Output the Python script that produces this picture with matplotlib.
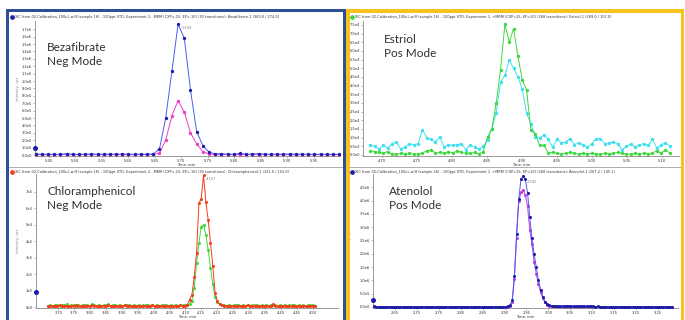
import numpy as np
import matplotlib.pyplot as plt
from matplotlib.patches import Rectangle
from matplotlib.lines import Line2D
from matplotlib.ticker import FuncFormatter

W, H = 685, 320

# ---- Bezafibrate, Neg Mode (top left), counts ----
bez_t0, bez_dt = 5.425, 0.0117
bez_blue = [1.2e4, 1.1e4, 1.0e4, 0.9e4, 1.0e4, 1.8e4, 1.0e4, 0.8e4, 1.2e4, 1.4e4,
            1.0e4, 1.1e4, 1.3e4, 1.0e4, 1.5e4, 1.1e4, 0.9e4, 1.2e4, 1.0e4, 1.5e4,
            8.1e4, 5.0e5, 1.13e6, 1.77e6, 1.58e6, 8.8e5, 3.16e5, 1.26e5, 3.6e4,
            1.6e4, 1.8e4, 1.2e4, 1.0e4, 2.2e4, 1.0e4, 1.4e4, 2.0e4, 1.1e4, 0.9e4,
            1.3e4, 1.1e4, 1.5e4, 1.0e4, 1.2e4, 0.9e4, 1.1e4, 1.0e4, 0.8e4, 1.0e4, 1.0e4]
bez_pink = [0.6e4, 0.5e4, 0.4e4, 0.5e4, 0.6e4, 0.5e4, 0.4e4, 0.5e4, 0.6e4, 0.5e4,
            0.5e4, 0.4e4, 0.6e4, 0.5e4, 0.5e4, 0.4e4, 0.5e4, 0.6e4, 0.5e4, 0.6e4,
            2.5e4, 2.0e5, 5.3e5, 7.35e5, 5.8e5, 3.0e5, 1.5e5, 4.5e4, 1.4e4,
            0.6e4, 0.5e4, 0.5e4, 0.4e4, 0.6e4, 0.5e4, 0.5e4, 0.4e4, 0.5e4, 0.6e4,
            0.5e4, 0.4e4, 0.5e4, 0.5e4, 0.6e4, 0.4e4, 0.5e4, 0.5e4, 0.4e4, 0.5e4, 0.5e4]
bez_start = 9.0e4

# ---- Estriol, Pos Mode (top right), counts ----
est_t0, est_dt = 4.6838, 0.0062
est_green = [2.5e3, 2.0e3, 1.5e3, 1.0e3, 2.0e3, 0.5e3, 0.5e3, 1.0e3, 0.5e3, 1.0e3,
             0.5e3, 0.5e3, 1.0e3, 2.5e3, 3.0e3, 1.0e3, 1.5e3, 1.0e3, 2.0e3, 1.0e3,
             2.5e3, 1.5e3, 1.0e3, 1.0e3, 1.5e3, 0.5e3, 2.0e3,
             1.04e4, 1.52e4, 3.0e4, 4.92e4, 7.54e4, 6.52e4, 7.29e4, 5.69e4, 4.35e4,
             3.73e4, 1.42e4, 1.23e4, 5.6e3, 5.6e3, 1.2e3,
             1.5e3, 1.0e3, 0.5e3, 1.0e3, 1.5e3, 1.0e3, 0.5e3, 1.0e3, 0.5e3, 1.0e3,
             0.5e3, 0.5e3, 1.0e3, 0.5e3, 1.0e3, 1.5e3, 1.0e3, 0.5e3, 0.5e3, 1.0e3,
             0.5e3, 1.0e3, 0.5e3, 1.0e3, 2.5e3, 1.0e3, 3.0e3, 1.0e3]
est_cyan = [6.0e3, 5.0e3, 3.5e3, 5.5e3, 4.0e3, 6.5e3, 7.5e3, 3.5e3, 4.5e3, 6.5e3,
            6.0e3, 6.5e3, 1.45e4, 1.0e4, 9.0e3, 7.5e3, 1.05e4, 4.5e3, 6.0e3, 5.5e3,
            6.0e3, 6.5e3, 3.0e3, 6.0e3, 4.5e3, 3.5e3, 5.0e3,
            8.5e3, 1.5e4, 2.4e4, 4.2e4, 4.6e4, 5.5e4, 5.0e4, 4.5e4, 3.8e4,
            2.4e4, 1.8e4, 1.05e4, 1.0e4, 1.15e4, 9.0e3,
            4.5e3, 9.0e3, 7.0e3, 7.5e3, 9.5e3, 6.0e3, 7.0e3, 6.0e3, 4.5e3, 6.5e3,
            9.5e3, 9.5e3, 6.5e3, 7.0e3, 7.5e3, 6.5e3, 3.0e3, 5.0e3, 6.5e3, 4.5e3,
            6.0e3, 6.5e3, 5.5e3, 9.0e3, 4.0e3, 6.0e3, 7.0e3, 5.0e3]

# ---- Chloramphenicol, Neg Mode (bottom left), thousands of counts ----
chl_t0, chl_dt = 3.6679, 0.0073
chl_red = [0.8, 0.6, 1.0, 0.7, 0.9, 1.2, 0.6, 0.8, 1.0, 0.7,
           0.9, 0.6, 1.1, 0.8, 0.7, 1.0, 0.9, 0.6, 0.8, 1.3,
           0.7, 0.9, 0.6, 1.0, 0.8, 0.7, 1.1, 0.9, 0.6, 0.8,
           1.0, 0.7, 0.9, 1.2, 0.6, 0.8, 1.0, 0.7, 0.9, 0.8,
           0.6, 1.0, 0.8, 0.7, 0.9, 1.1, 0.6, 0.8, 1.0, 0.7,
           0.9, 0.6, 0.8, 1.0, 0.7, 0.9, 0.8, 1.1, 0.7, 0.9,
           1.5, 4.6, 7.7, 18.4, 33.0, 63.0, 66.0, 80.0, 64.0, 53.0,
           39.0, 25.0, 8.7, 3.6, 1.8,
           1.2, 0.9, 0.8, 1.0, 0.7, 0.9, 0.6, 1.0, 0.8, 0.7,
           0.9, 1.1, 0.6, 0.8, 1.0, 0.7, 0.9, 0.8, 0.6, 1.0,
           0.8, 0.7, 1.9, 0.9, 0.6, 0.8, 1.0, 0.7, 0.9, 0.8,
           0.6, 1.0, 0.8, 0.7, 0.9, 0.6, 0.8, 1.0, 0.7, 0.9, 0.8]
chl_green = [1.0, 1.4, 0.8, 1.2, 1.6, 0.9, 1.3, 1.1, 1.8, 0.9,
             1.2, 1.5, 1.0, 1.3, 0.8, 1.6, 1.1, 1.4, 0.9, 2.0,
             1.2, 1.0, 1.5, 0.8, 1.3, 1.1, 1.7, 0.9, 1.2, 1.4,
             1.0, 1.6, 0.8, 1.3, 1.1, 1.5, 0.9, 1.2, 1.0, 1.4,
             0.8, 1.3, 1.1, 1.6, 0.9, 1.2, 1.0, 1.5, 0.8, 1.3,
             1.1, 1.4, 0.9, 1.2, 1.0, 1.6, 0.8, 1.3, 1.1, 1.4,
             1.2, 2.0,
             4.0, 12.0, 27.0, 39.0, 49.0, 50.0, 44.0, 35.0, 24.0, 14.0,
             6.0, 3.0, 2.0,
             1.5, 1.2, 1.0, 1.4, 0.9, 1.3, 1.1, 1.6, 0.8, 1.2,
             1.0, 1.5, 0.9, 1.3, 1.1, 1.4, 0.8, 1.2, 1.0, 1.6,
             0.9, 1.3, 1.1, 1.5, 0.8, 1.2, 1.0, 1.4, 0.9, 1.3,
             1.1, 1.6, 0.8, 1.2, 1.0, 1.5, 0.9, 1.3, 1.1, 1.4, 1.0]
chl_start = 9.3

# ---- Atenolol, Pos Mode (bottom right), units of 1e5 counts ----
ate_t0, ate_dt = 2.6025, 0.005
ate_blue = [0.20, 0.15, 0.12, 0.14, 0.11, 0.13, 0.15, 0.12, 0.10, 0.14,
            0.12, 0.13, 0.11, 0.15, 0.12, 0.10, 0.13, 0.14, 0.12, 0.11,
            0.13, 0.12, 0.15, 0.10, 0.12, 0.14, 0.11, 0.13, 0.12, 0.10,
            0.14, 0.12, 0.13, 0.11, 0.15, 0.12, 0.10, 0.13, 0.12, 0.14,
            0.11, 0.13, 0.12, 0.10, 0.14, 0.12, 0.13, 0.11, 0.12, 0.15,
            0.10, 0.13, 0.12, 0.14, 0.11, 0.12, 0.13, 0.10, 0.12, 0.14, 0.15,
            0.3, 0.6, 2.5, 11.5, 27.5, 40.5, 48.0, 49.4, 48.0, 43.0,
            34.0, 26.0, 20.0, 15.0, 10.0, 6.5, 3.8, 2.0, 1.1, 0.7, 0.5, 0.4,
            0.35, 0.32, 0.30, 0.28, 0.30, 0.27, 0.25, 0.26, 0.24, 0.25,
            0.23, 0.22, 0.24, 0.21, 0.20, 0.22, 0.19, 0.20, 0.18, 0.19,
            0.17, 0.18, 0.16, 0.17, 0.15, 0.17, 0.16, 0.14, 0.15, 0.16,
            0.14, 0.13, 0.15, 0.14, 0.12, 0.13, 0.14, 0.12, 0.13, 0.11,
            0.12, 0.13, 0.11, 0.12, 0.10, 0.12, 0.11, 0.10, 0.12, 0.11,
            0.10, 0.11, 0.10, 0.11]
ate_pink = [0.08, 0.07, 0.09, 0.08, 0.06, 0.08, 0.07, 0.09, 0.08, 0.07,
            0.08, 0.06, 0.09, 0.07, 0.08, 0.08, 0.07, 0.09, 0.06, 0.08,
            0.07, 0.08, 0.09, 0.07, 0.08, 0.06, 0.08, 0.07, 0.09, 0.08,
            0.07, 0.08, 0.06, 0.09, 0.07, 0.08, 0.08, 0.07, 0.09, 0.06,
            0.08, 0.07, 0.08, 0.09, 0.07, 0.08, 0.06, 0.08, 0.07, 0.09,
            0.08, 0.07, 0.08, 0.06, 0.09, 0.07, 0.08, 0.08, 0.07, 0.09, 0.08,
            0.1, 0.4, 2.0, 10.5, 26.0, 39.7, 43.1, 44.1, 42.0, 38.0,
            29.0, 23.5, 17.0, 12.5, 8.5, 5.5, 3.2, 1.7, 0.9, 0.5, 0.3, 0.2,
            0.18, 0.16, 0.15, 0.16, 0.14, 0.15, 0.13, 0.14, 0.12, 0.13,
            0.12, 0.11, 0.13, 0.12, 0.11, 0.10, 0.12, 0.11, 0.10, 0.11,
            0.10, 0.09, 0.11, 0.10, 0.09, 0.10, 0.08, 0.09, 0.10, 0.09,
            0.08, 0.09, 0.08, 0.10, 0.09, 0.08, 0.09, 0.08, 0.07, 0.09,
            0.08, 0.07, 0.08, 0.09, 0.07, 0.08, 0.07, 0.08, 0.07, 0.08,
            0.07, 0.08, 0.07, 0.08]
ate_start = 2.75

headers = [
    "XIC from 02-Calibration_100uL.wiff (sample 16) - 100ppt STD, Experiment 2, -MRM (CXP=-15, EP=-10) (30 transitions): Bezafibrate-1 (360.0 / 274.0)",
    "XIC from 02-Calibration_100uL.wiff (sample 16) - 100ppt STD, Experiment 1, +MRM (CXP=15, EP=10) (268 transitions): Estriol-1 (289.0 / 107.0)",
    "XIC from 02-Calibration_100uL.wiff (sample 16) - 100ppt STD, Experiment 2, -MRM (CXP=-15, EP=-10) (30 transitions): Chloramphenicol-1 (321.0 / 152.0)",
    "XIC from 02-Calibration_100uL.wiff (sample 16) - 100ppt STD, Experiment 1, +MRM (CXP=15, EP=10) (268 transitions): Atenolol-1 (267.2 / 145.1)",
]
names = ["Bezafibrate\nNeg Mode", "Estriol\nPos Mode",
         "Chloramphenicol\nNeg Mode", "Atenolol\nPos Mode"]

NAVY = "#1c1ca8"
BLUE_LINE = "#4a5cf0"
PINK = "#f03cc8"
GREEN = "#3ed83e"
CYAN = "#3ee0f0"
RED = "#f83c1c"
VIOLET = "#c03ce0"
GREY = "#8a8a8a"
TXT = "#303030"


def sci1(v, pos=None):
    if v == 0:
        return "0.0e0"
    e = int(np.floor(np.log10(abs(v)) + 1e-9))
    return f"{v / 10 ** e:.1f}e{e}"


def sci0(v, pos=None):
    if v == 0:
        return "0e0"
    e = int(np.floor(np.log10(abs(v)) + 1e-9))
    return f"{v / 10 ** e:.0f}e{e}"


fig = plt.figure(figsize=(W / 100, H / 100), dpi=100)
fig.patch.set_facecolor("white")


def fx(x):
    return x / W


def fy(y):
    return 1 - y / H


def band(x0, y0, x1, y1, color):
    fig.add_artist(Rectangle((fx(x0), fy(y1)), fx(x1 - x0), (y1 - y0) / H,
                             transform=fig.transFigure, color=color, lw=0, zorder=5))


def make_axes(box, xlim, ylim, xticks, yticks, yfmt, ylab_x):
    x0, y0, x1, y1 = box
    ax = fig.add_axes([fx(x0), fy(y1), fx(x1 - x0), (y1 - y0) / H])
    ax.set_xlim(*xlim)
    ax.set_ylim(*ylim)
    ax.set_xticks(xticks)
    ax.set_yticks(yticks)
    ax.xaxis.set_major_formatter(FuncFormatter(lambda v, p: f"{v:.2f}"))
    ax.yaxis.set_major_formatter(FuncFormatter(yfmt))
    for s in ["top", "right"]:
        ax.spines[s].set_visible(False)
    for s in ["left", "bottom"]:
        ax.spines[s].set_color(GREY)
        ax.spines[s].set_linewidth(0.6)
    ax.tick_params(length=1.5, width=0.4, color=GREY, labelsize=2.6,
                   labelcolor=TXT, pad=0.8)
    ax.set_xlabel("Time, min", fontsize=2.6, color=TXT, labelpad=0.2)
    ax.set_ylabel("Intensity, cps", fontsize=2.6, color=GREY)
    ax.yaxis.set_label_coords(-(x0 - ylab_x) / (x1 - x0), 0.5)
    ax.set_facecolor("white")
    return ax


def trace(ax, t0, dt, vals, scale, line_c, mark_c, ms=2.4, z=2):
    v = np.array(vals) * scale
    t = t0 + dt * np.arange(len(v))
    ax.plot(t, v, color=line_c, lw=0.7, marker="o", ms=ms, mfc=mark_c,
            mec=mark_c, mew=0, zorder=z, clip_on=False)
    return t, v


# --- top left: Bezafibrate ---
ax1 = make_axes((35, 21, 338, 156), (5.424, 5.996), (-1.35e4, 1.812e6),
                np.arange(5.45, 5.96, 0.05), np.arange(0, 1.71e6, 1e5), sci1, 20)
trace(ax1, bez_t0, bez_dt, bez_pink, 1, PINK, PINK, z=2)
t, v = trace(ax1, bez_t0, bez_dt, bez_blue, 1, BLUE_LINE, NAVY, z=3)
ax1.plot([5.424], [bez_start], "o", ms=2.6, color=NAVY, clip_on=False, zorder=4)
k = int(np.argmax(v))
ax1.text(t[k] + 0.006, v[k] - 0.03e6, "5.694", fontsize=2.6, color=GREY, va="top")

# --- top right: Estriol ---
ax2 = make_axes((363, 21, 679, 156), (4.6733, 5.1247), (-577, 7.73e4),
                np.arange(4.70, 5.11, 0.05), np.arange(0, 7.51e4, 5e3), sci1, 350)
trace(ax2, est_t0, est_dt, est_cyan, 1, CYAN, CYAN, z=2)
trace(ax2, est_t0, est_dt, est_green, 1, GREEN, GREEN, z=3)

# --- bottom left: Chloramphenicol ---
ax3 = make_axes((36, 174, 338, 308), (3.63, 4.58), (-425, 8.09e4),
                np.arange(3.70, 4.51, 0.05), np.arange(0, 7.1e4, 1e4), sci0, 20)
trace(ax3, chl_t0, chl_dt, chl_green, 1e3, GREEN, GREEN, ms=2.2, z=2)
t, v = trace(ax3, chl_t0, chl_dt, chl_red, 1e3, RED, RED, ms=2.2, z=3)
ax3.plot([3.63], [chl_start * 1e3], "o", ms=2.6, color=NAVY, clip_on=False, zorder=4)
k = int(np.argmax(v))
ax3.text(t[k] + 0.008, v[k] - 1.2e3, "4.157", fontsize=2.6, color=GREY, va="top")

# --- bottom right: Atenolol ---
ax4 = make_axes((373, 174, 678, 308), (2.5998, 3.296), (-3.76e4, 5.0e6),
                np.arange(2.65, 3.26, 0.05), np.arange(0, 4.51e6, 5e5), sci1, 352)
trace(ax4, ate_t0, ate_dt, ate_pink, 1e5, VIOLET, VIOLET, ms=2.2, z=2)
t, v = trace(ax4, ate_t0, ate_dt, ate_blue, 1e5, BLUE_LINE, NAVY, ms=2.2, z=3)
ax4.plot([2.5998], [ate_start * 1e5], "o", ms=2.6, color=NAVY, clip_on=False, zorder=4)
k = int(np.argmax(v))
ax4.text(t[k] + 0.008, v[k] - 0.15e6, "2.942", fontsize=2.6, color=GREY, va="top")

# panel headers and compound names
head_pos = [(12, 17, NAVY), (352, 17, GREEN), (12, 172, RED), (352, 172, NAVY)]
for (hx, hy, hc), txt in zip(head_pos, headers):
    fig.add_artist(Line2D([fx(hx)], [fy(hy)], marker="o", ms=2.4, color=hc,
                          transform=fig.transFigure))
    fig.text(fx(hx + 3), fy(hy), txt, fontsize=2.5, color=TXT, va="center")

name_pos = [(47, 54.5), (384, 46.5), (47, 198.5), (389, 198.5)]
for (nx, ny), txt in zip(name_pos, names):
    fig.text(fx(nx), fy(ny), txt, fontsize=8.5, family="Lato", color=TXT,
             va="center", linespacing=1.3)

# separators between top and bottom rows
fig.add_artist(Line2D([fx(9), fx(343)], [fy(167), fy(167)], color="#a0a0a0",
                      lw=0.6, transform=fig.transFigure))
fig.add_artist(Line2D([fx(350), fx(681)], [fy(167), fy(167)], color="#a0a0a0",
                      lw=0.6, transform=fig.transFigure))

# coloured frames
BLUE_FRAME = "#2f4e98"
YELLOW_FRAME = "#f8c21c"
band(6, 9, 346, 12, BLUE_FRAME)
band(6, 9, 9, 320, BLUE_FRAME)
band(343, 9, 346, 320, BLUE_FRAME)
band(346, 9, 684, 12.5, YELLOW_FRAME)
band(346, 9, 350, 320, YELLOW_FRAME)
band(681, 9, 684, 320, YELLOW_FRAME)

fig.savefig("out.png", dpi=100, facecolor="white")
